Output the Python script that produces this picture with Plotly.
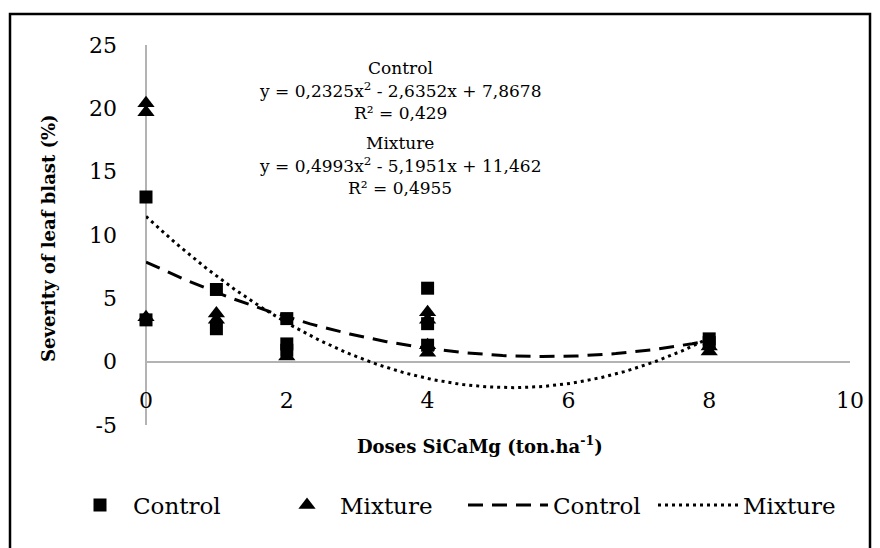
import numpy as np
import plotly.graph_objects as go

# ---- data ----
control_x = [0, 0, 1, 1, 2, 2, 2, 4, 4, 4, 8, 8]
control_y = [13.0, 3.3, 5.7, 2.6, 3.4, 1.4, 0.9, 5.8, 3.0, 1.3, 1.8, 1.5]
mixture_x = [0, 0, 0, 1, 1, 2, 4, 4, 4, 4, 8, 8]
mixture_y = [20.4, 19.7, 3.5, 3.8, 3.3, 0.4, 3.9, 3.3, 1.3, 0.7, 1.2, 0.8]

# trend line coefficients (as printed on the chart)
control_coef = [0.2325, -2.6352, 7.8678]
mixture_coef = [0.4993, -5.1951, 11.462]
trend_x = np.linspace(0, 8, 200)

x_ticks = [0, 2, 4, 6, 8, 10]
y_ticks = [-5, 0, 5, 10, 15, 20, 25]

FONT = "DejaVu Serif"
OFF = 8  # page offset of the figure (body margin)

fig = go.Figure()
fig.add_trace(go.Scatter(x=control_x, y=control_y, mode="markers", name="Control",
                         marker=dict(symbol="square", size=13, color="black"),
                         cliponaxis=False, legend="legend"))
fig.add_trace(go.Scatter(x=mixture_x, y=mixture_y, mode="markers", name="Mixture",
                         marker=dict(symbol="triangle-up", size=15, color="black"),
                         cliponaxis=False, legend="legend2"))
fig.add_trace(go.Scatter(x=trend_x, y=np.polyval(control_coef, trend_x), mode="lines",
                         name="Control", line=dict(color="black", width=3, dash="15px,9px"),
                         legend="legend3"))
fig.add_trace(go.Scatter(x=trend_x, y=np.polyval(mixture_coef, trend_x), mode="lines",
                         name="Mixture", line=dict(color="black", width=3, dash="3px,4px"),
                         legend="legend4"))

eq_lines = [
    ("Control", 68),
    ("y = 0,2325x<sup>2</sup> - 2,6352x + 7,8678", 90),
    ("R² = 0,429", 113),
    ("Mixture", 143),
    ("y = 0,4993x<sup>2</sup> - 5,1951x + 11,462", 165),
    ("R² = 0,4955", 188),
]
annotations = []
for txt, py in eq_lines:
    annotations.append(dict(text=txt, xref="paper", yref="paper", x=(400 - 146) / 704,
                            y=(425 - py) / 380, xanchor="center", yanchor="middle",
                            showarrow=False, font=dict(family=FONT, size=17, color="black")))

annotations.append(dict(text="<b>Doses SiCaMg (ton.ha<sup>-1</sup>)</b>", xref="paper", yref="paper",
                        x=(480 - 146) / 704, y=(425 - 445) / 380, xanchor="center", yanchor="middle",
                        showarrow=False, font=dict(family=FONT, size=18, color="black")))
annotations.append(dict(text="<b>Severity of leaf blast (%)</b>", xref="paper", yref="paper",
                        x=(48 - 146) / 704, y=(425 - 238) / 380, xanchor="center", yanchor="middle",
                        textangle=-90, showarrow=False, font=dict(family=FONT, size=18, color="black")))

def leg(px, iw):
    return dict(orientation="h", xref="container", yref="container", x=(px - OFF) / 880,
                y=1 - (505 - OFF) / 548, xanchor="left", yanchor="middle", itemwidth=iw,
                font=dict(family=FONT, size=23, color="black"), bgcolor="rgba(0,0,0,0)")

fig.update_layout(
    width=880, height=548,
    margin=dict(l=146 - OFF, r=880 - 850 + OFF, t=45 - OFF, b=548 - 425 + OFF, autoexpand=False),
    paper_bgcolor="white", plot_bgcolor="white",
    font=dict(family=FONT, color="black"),
    showlegend=True,
    legend=leg(67, 56), legend2=leg(274, 56), legend3=leg(463, 80), legend4=leg(653, 80),
    annotations=annotations,
    shapes=[dict(type="rect", xref="paper", yref="paper",
                 x0=(10 - 146) / 704, x1=(870 - 146) / 704,
                 y0=(425 - 580) / 380, y1=(425 - 14) / 380,
                 line=dict(color="black", width=2.5), fillcolor="rgba(0,0,0,0)", layer="below")],
)
fig.update_xaxes(range=[0, 10], tickvals=x_ticks, ticktext=[str(v) for v in x_ticks],
                 showgrid=False, zeroline=True, zerolinecolor="#b3b3b3", zerolinewidth=2,
                 showline=False, ticks="", anchor="free", position=(425 - 385) / 380,
                 automargin=False,
                 tickfont=dict(family=FONT, size=22, color="black"))
fig.update_yaxes(range=[-5, 25], tickvals=y_ticks, ticktext=[str(v) for v in y_ticks],
                 showgrid=False, zeroline=True, zerolinecolor="#b3b3b3", zerolinewidth=2,
                 showline=False, ticks="", ticklabelstandoff=28, automargin=False,
                 tickfont=dict(family=FONT, size=22, color="black"))

fig.write_html("out.html")
